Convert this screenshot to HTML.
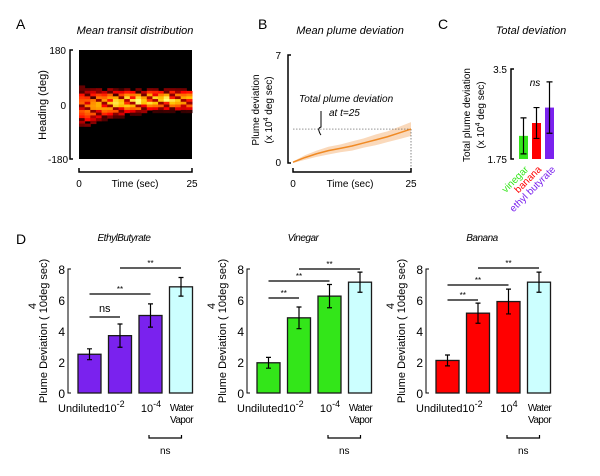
<!DOCTYPE html>
<html><head><meta charset="utf-8"><style>
body{margin:0;background:#fff}
svg{display:block;font-family:"Liberation Sans","DejaVu Sans",sans-serif}
</style></head><body>
<svg id="fig" width="600" height="476" viewBox="0 0 600 476">
<g font-size="14">
<text x="16" y="29">A</text><text x="258" y="29">B</text><text x="438" y="29">C</text><text x="16" y="244">D</text>
</g>
<g>
<text x="135" y="34" font-size="11" font-style="italic" text-anchor="middle">Mean transit distribution</text>
<rect x="79" y="50" width="113" height="109" fill="#000"/>
<g id="heat"></g>
<path d="M73 50H70V159H73" fill="none" stroke="#000" stroke-width="1.5"/>
<text x="66" y="54" font-size="10" text-anchor="end">180</text>
<text x="66" y="109" font-size="10" text-anchor="end">0</text>
<text x="68" y="163" font-size="10" text-anchor="end">-180</text>
<text transform="translate(46,105) rotate(-90)" font-size="11" text-anchor="middle">Heading (deg)</text>
<path d="M79 168V172H192V168" fill="none" stroke="#000" stroke-width="1.5"/>
<text x="79" y="187" font-size="10" text-anchor="middle">0</text>
<text x="135" y="187" font-size="10" text-anchor="middle">Time (sec)</text>
<text x="192" y="187" font-size="10" text-anchor="middle">25</text>
</g>
<g>
<text x="350" y="34" font-size="11" font-style="italic" text-anchor="middle">Mean plume deviation</text>
<path d="M291 55H288V163H291" fill="none" stroke="#000" stroke-width="1.5"/>
<text x="281" y="59" font-size="10" text-anchor="end">7</text>
<text x="281" y="166" font-size="10" text-anchor="end">0</text>
<text transform="translate(259,110) rotate(-90)" font-size="10" text-anchor="middle">Plume deviation</text>
<text transform="translate(272,110) rotate(-90)" font-size="10" text-anchor="middle">(x 10<tspan dy="-4" font-size="7">4</tspan><tspan dy="4"> deg sec)</tspan></text>
<g id="lineB"></g>
<path d="M293 168V172H411V168" fill="none" stroke="#000" stroke-width="1.5"/>
<text x="293" y="187" font-size="10" text-anchor="middle">0</text>
<text x="350" y="187" font-size="10" text-anchor="middle">Time (sec)</text>
<text x="411" y="187" font-size="10" text-anchor="middle">25</text>
<text x="299" y="102" font-size="10" font-style="italic">Total plume deviation</text>
<text x="329" y="116" font-size="10" font-style="italic">at t=25</text>
<path d="M321 111V127Q318 128 319 131Q320 134 321 135" fill="none" stroke="#000" stroke-width="1"/>
</g>
<g>
<text x="531" y="34" font-size="11" font-style="italic" text-anchor="middle">Total deviation</text>
<g id="barsC"></g>
<text x="535" y="86" font-size="10" font-style="italic" text-anchor="middle">ns</text>
<text transform="translate(470,115) rotate(-90)" font-size="10" text-anchor="middle">Total plume deviation</text>
<text transform="translate(484,115) rotate(-90)" font-size="10" text-anchor="middle">(x 10<tspan dy="-4" font-size="7">4</tspan><tspan dy="4"> deg sec)</tspan></text>
<text transform="translate(529,170) rotate(-45)" font-size="10" fill="#33e619" text-anchor="end">vinegar</text>
<text transform="translate(542,170) rotate(-45)" font-size="10" fill="#ff0000" text-anchor="end">banana</text>
<text transform="translate(556,170) rotate(-45)" font-size="10" fill="#7a22ee" text-anchor="end">ethyl butyrate</text>
</g>
<g id="panelD"></g>
</svg>
<script>
const NS='http://www.w3.org/2000/svg';
function mk(p,t,a,txt){const e=document.createElementNS(NS,t);for(const k in a)e.setAttribute(k,a[k]);if(txt!==undefined)e.textContent=txt;p.appendChild(e);return e;}

// Panel A heatmap data: per time column, band center heading (deg), peak intensity and spread
const heatCenters=[-5,-10,-5,0,0,5,5,5,10,10,10,10,15,15,15,15,15,15,15,15];
const heatPeaks=[0.7,0.75,0.8,0.85,0.85,0.9,0.95,0.9,1,0.95,1,0.9,1,0.95,0.9,1,0.95,0.9,0.85,0.9];
const heatSpread=[75,70,65,60,55,55,50,50,45,45,45,40,40,40,40,40,40,40,40,40];
(function(){
 const g=document.getElementById('heat');const x0=79,w=113,y0=50,h=109;
 const nc=heatCenters.length,nr=40;const cw=w/nc,rh=h/nr;
 const yv=v=>y0+(180-v)/360*h;
 for(let c=0;c<nc;c++)for(let r=0;r<nr;r++){
  const hv=180-(r+0.5)*360/nr;const d=Math.abs(hv-heatCenters[c])/heatSpread[c];
  let v=heatPeaks[c]*Math.max(0,1-d*d);if(((c*7+r*3)%5)==0)v*=0.35;if(((c*3+r*5)%7)==0)v*=0.6;
  if(v<0.1)continue;
  const R=Math.min(255,Math.round(v*2*255)),G=Math.round(Math.max(0,v-0.5)*2*255),B=Math.round(Math.max(0,v-0.88)*4*255);
  const e=mk(g,'rect',{x:x0+c*cw,y:yv(hv)-rh/2,width:cw+0.5,height:rh+0.5,fill:`rgb(${R},${Math.min(255,G)},${Math.min(255,B)})`});
  
  
 }
})();

// Panel B line data
const bTimes=[0,2.5,5,7.5,10,12.5,15,17.5,20,22.5,25];
const bMean=[0.05,0.35,0.6,0.8,0.95,1.1,1.3,1.5,1.7,1.95,2.2];
const bSpread=[0.05,0.15,0.2,0.25,0.25,0.3,0.3,0.35,0.35,0.4,0.45];
(function(){
 const g=document.getElementById('lineB');
 const x=t=>293+t/25*118,y=v=>163-v/7*108;
 let up=bTimes.map((t,i)=>`${x(t)},${y(bMean[i]+bSpread[i])}`),lo=bTimes.map((t,i)=>`${x(t)},${y(bMean[i]-bSpread[i])}`).reverse();
 let e=mk(g,'polygon',{points:up.concat(lo).join(' '),fill:'#fad9bb'});
 
 
 const last=bMean[bMean.length-1];
 mk(g,'line',{x1:293,x2:411,y1:y(last),y2:y(last),stroke:'#555','stroke-width':0.7,'stroke-dasharray':'1.5,1.5'});
 mk(g,'line',{x1:411,x2:411,y1:y(last),y2:168,stroke:'#555','stroke-width':0.7,'stroke-dasharray':'1.5,1.5'});
 e=mk(g,'polyline',{points:bTimes.map((t,i)=>`${x(t)},${y(bMean[i])}`).join(' '),fill:'none',stroke:'#f08a24','stroke-width':1.5});
 
 
})();

// Panel C data
const cCats=['vinegar','banana','ethyl butyrate'];
const cVals=[2.2,2.45,2.75];
const cErr=[0.35,0.3,0.5];
const cColors=['#33e619','#ff0000','#7a22ee'];
(function(){
 const g=document.getElementById('barsC');
 const y=v=>159-(v-1.75)/1.75*90;
 mk(g,'path',{d:'M514 69H511V159H514',fill:'none',stroke:'#000','stroke-width':1.5});
 mk(g,'text',{x:507,y:73,'font-size':10,'text-anchor':'end'},'3.5');
 mk(g,'text',{x:507,y:163,'font-size':10,'text-anchor':'end'},'1.75');
 cVals.forEach((v,i)=>{const bx=519+i*13;
  const e=mk(g,'rect',{x:bx,y:y(v),width:9,height:159-y(v),fill:cColors[i]});
  
  
  const cx=bx+4.5;mk(g,'path',{d:`M${cx} ${y(v+cErr[i])}V${y(v-cErr[i])}M${cx-3} ${y(v+cErr[i])}H${cx+3}M${cx-3} ${y(v-cErr[i])}H${cx+3}`,stroke:'#000','stroke-width':1.2,fill:'none'});
 });
})();

// Panel D data
const dTitles=['EthylButyrate','Vinegar','Banana'];
const dVals=[[2.5,3.7,5.0,6.85],[1.95,4.85,6.25,7.15],[2.1,5.15,5.9,7.15]];
const dErr=[[0.35,0.75,0.75,0.6],[0.35,0.7,0.75,0.65],[0.35,0.65,0.8,0.65]];
const dColors=['#7a22ee','#33e619','#ff0000'];
const dYTicks=[0,2,4,6,8];
const dSig=[[[0,1,'ns'],[0,2,'**'],[1,3,'**']],[[0,1,'**'],[0,2,'**'],[1,3,'**']],[[0,1,'**'],[0,2,'**'],[1,3,'**']]];
(function(){
 const P=document.getElementById('panelD');
 const origins=[68,247,426],sigY=[[317,294,268],[298,281,269],[300,285,268]];
 dTitles.forEach((t,k)=>{
  const g=mk(P,'g',{});
  
  
  const ax=origins[k],y=v=>393-v*15.5,bx=i=>ax+10+i*30.5,bw=23;
  mk(g,'text',{x:ax+56,y:241,'font-size':10,'font-style':'italic','text-anchor':'middle',style:'letter-spacing:-0.5px'},t);
  mk(g,'path',{d:`M${ax+3} ${y(8)}H${ax}V393H${ax+3}`,fill:'none',stroke:'#000','stroke-width':1});
  dYTicks.forEach(v=>mk(g,'text',{x:ax-3,y:y(v)+5,'font-size':12,'text-anchor':'end'},v));
  mk(g,'text',{transform:`translate(${ax-21},331) rotate(-90)`,'font-size':11,'text-anchor':'middle'},'Plume Deviation ( 10deg sec)');
  mk(g,'text',{transform:`translate(${ax-32},306) rotate(-90)`,'font-size':11,'text-anchor':'middle'},'4');
  dVals[k].forEach((v,i)=>{
   const e=mk(g,'rect',{x:bx(i),y:y(v),width:bw,height:393-y(v),fill:i==3?'#ccffff':dColors[k],stroke:'#1a1a1a','stroke-width':1.3});
   
   
   const cx=bx(i)+bw/2,e1=y(v+dErr[k][i]),e2=y(v-dErr[k][i]);
   mk(g,'path',{d:`M${cx} ${e1}V${e2}M${cx-2.5} ${e1}H${cx+2.5}M${cx-2.5} ${e2}H${cx+2.5}`,stroke:'#000','stroke-width':1.2,fill:'none'});
  });
  dSig[k].forEach((s,j)=>{const x1=bx(s[0])+bw/2,x2=bx(s[1])+bw/2,yy=sigY[k][j];
   mk(g,'line',{x1,x2,y1:yy,y2:yy,stroke:'#000','stroke-width':1.2});
   mk(g,'text',{x:(x1+x2)/2,y:yy-(s[2]=='ns'?5:2),'font-size':s[2]=='ns'?11:8,'text-anchor':'middle'},s[2]);
  });
  mk(g,'text',{x:ax-10,y:412,'font-size':11},'Undiluted');
  mk(g,'text',{x:bx(1)+6,y:412,'font-size':11,'text-anchor':'middle'}).innerHTML='10<tspan dy="-5" font-size="9">-2</tspan>';
  mk(g,'text',{x:bx(2)+12,y:412,'font-size':11,'text-anchor':'middle'}).innerHTML='10<tspan dy="-5" font-size="9">'+(k==2?'4':'-4')+'</tspan>';
  mk(g,'text',{x:bx(3)+12,y:411,'font-size':10,'text-anchor':'middle',style:'letter-spacing:-0.6px'},'Water');
  mk(g,'text',{x:bx(3)+12,y:423,'font-size':10,'text-anchor':'middle',style:'letter-spacing:-0.6px'},'Vapor');
  const b1=bx(2)+10,b2=bx(3)+12;
  mk(g,'path',{d:`M${b1} 435V438H${b2}V435`,fill:'none',stroke:'#000','stroke-width':1.2});
  mk(g,'text',{x:(b1+b2)/2,y:454,'font-size':10,'text-anchor':'middle'},'ns');
 });
})();
</script>
</body></html>
